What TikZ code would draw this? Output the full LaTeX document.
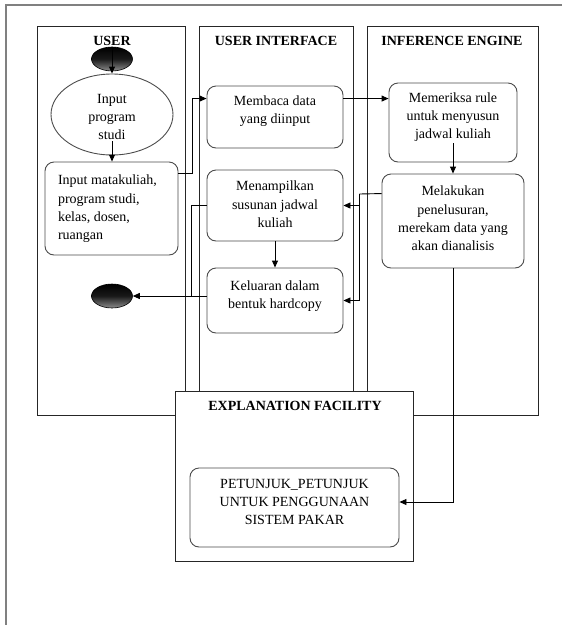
\documentclass[tikz,border=0pt]{standalone}
\usepackage{fontspec}
\setmainfont{Liberation Serif}
\usetikzlibrary{arrows.meta,calc,shapes.geometric}
\newcommand{\tx}[3]{\raisebox{#1}[\height][\depth]{\begin{tabular}{@{}#2@{}}#3\end{tabular}}}
\begin{document}
\begin{tikzpicture}[x=1pt,y=-1pt,
  every node/.style={font=\fontsize{14}{18.3}\selectfont, inner sep=0pt},
  lane/.style={draw=black!85, line width=0.9pt},
  rbox/.style={draw=black!70, line width=0.9pt, rounded corners=9pt, fill=white},
  ttl/.style={font=\fontsize{14}{18.3}\selectfont\bfseries},
  arr/.style={draw=black, line width=0.9pt, -{Triangle[length=7pt,width=6pt]}},
  ln/.style={draw=black, line width=0.9pt},
  blob/.style={ellipse, draw=black, line width=0.6pt, top color=black, bottom color=black!45, middle color=black!90, minimum width=41pt, minimum height=24pt}
]
\useasboundingbox (0,0) rectangle (562,625);
% outer frame
\draw[black!50, line width=1.5pt] (562,5) -- (6,5) -- (6,625);
% lanes
\draw[lane] (37.5,26) rectangle (185,415);
\draw[lane] (199,26) rectangle (353,415);
\draw[lane] (367.5,26) rectangle (538.5,415);
\node[ttl] (tuser) at (112,41) {USER};
\node[ttl] (tui) at (276,41) {USER INTERFACE};
\node[ttl] (tie) at (452,41) {INFERENCE ENGINE};
% explanation facility
\node[draw=black!85, line width=0.9pt, fill=white, minimum width=238pt, minimum height=170pt] (expl) at (294,476) {};
\node[ttl] (texpl) at (295,406) {EXPLANATION FACILITY};
% user lane
\node[blob] (start) at (112,59) {};
\node[ellipse, draw=black!70, line width=0.9pt, minimum width=122pt, minimum height=81pt] (ell) at (112,114.5) {\tx{-3.5pt}{c}{Input\\program\\studi}};
\node[rbox, minimum width=133pt, minimum height=93pt] (inmk) at (111.5,208.5) {\makebox[107pt][l]{\tx{0pt}{l}{Input matakuliah,\\program studi,\\kelas, dosen,\\ruangan}}};
\node[blob] (end) at (112,296) {};
% user interface lane
\node[rbox, minimum width=136pt, minimum height=62pt] (baca) at (275,117) {\tx{6pt}{c}{Membaca data\\yang diinput}};
\node[rbox, minimum width=136pt, minimum height=71pt] (tampil) at (275,205.5) {\tx{0pt}{c}{Menampilkan\\susunan jadwal\\kuliah}};
\node[rbox, minimum width=136pt, minimum height=65pt] (keluar) at (275,300.5) {\tx{4.5pt}{c}{Keluaran dalam\\bentuk hardcopy}};
% inference engine lane
\node[rbox, minimum width=128pt, minimum height=79pt] (mem) at (453,122.5) {\tx{5.5pt}{c}{Memeriksa rule\\untuk menyusun\\jadwal kuliah}};
\node[rbox, minimum width=142pt, minimum height=94pt] (lak) at (453,221) {\tx{1.5pt}{c}{Melakukan\\penelusuran,\\merekam data yang\\akan dianalisis}};
% explanation content
\node[rbox, minimum width=209pt, minimum height=79pt] (pet) at (294.5,507.5) {\tx{4.5pt}{c}{PETUNJUK\_PETUNJUK\\UNTUK PENGGUNAAN\\SISTEM PAKAR}};
% connectors
\draw[arr] (start.north) -- (ell.north);
\draw[arr] ($(ell.south)+(0,-14)$) -- (inmk.north -| ell.south);
\draw[arr] ($(inmk.north east)+(0,12)$) -- ++(13.5,0) |- ($(baca.north west)+(0,13)$);
\draw[arr] ($(baca.north east)+(0,13)$) -- ($(mem.north west)+(0,16)$);
\draw[arr] ($(mem.south)+(0,-19)$) -- (lak.north);
\draw[arr] (tampil.south) -- (keluar.north);
\coordinate (j1) at (359.5,194);
\draw[ln] ($(lak.north west)+(0,20)$) -- (j1);
\draw[arr] (j1) |- (tampil.east);
\draw[arr] (j1) |- (keluar.east);
\draw[ln] (tampil.west) -- ++(-15.3,0) coordinate (j2) -- (j2 |- end);
\draw[arr] (end -| keluar.west) -- (end.east);
\draw[arr] (lak.south) |- ($(pet.east)+(0,-5.5)$);
\end{tikzpicture}
\end{document}
